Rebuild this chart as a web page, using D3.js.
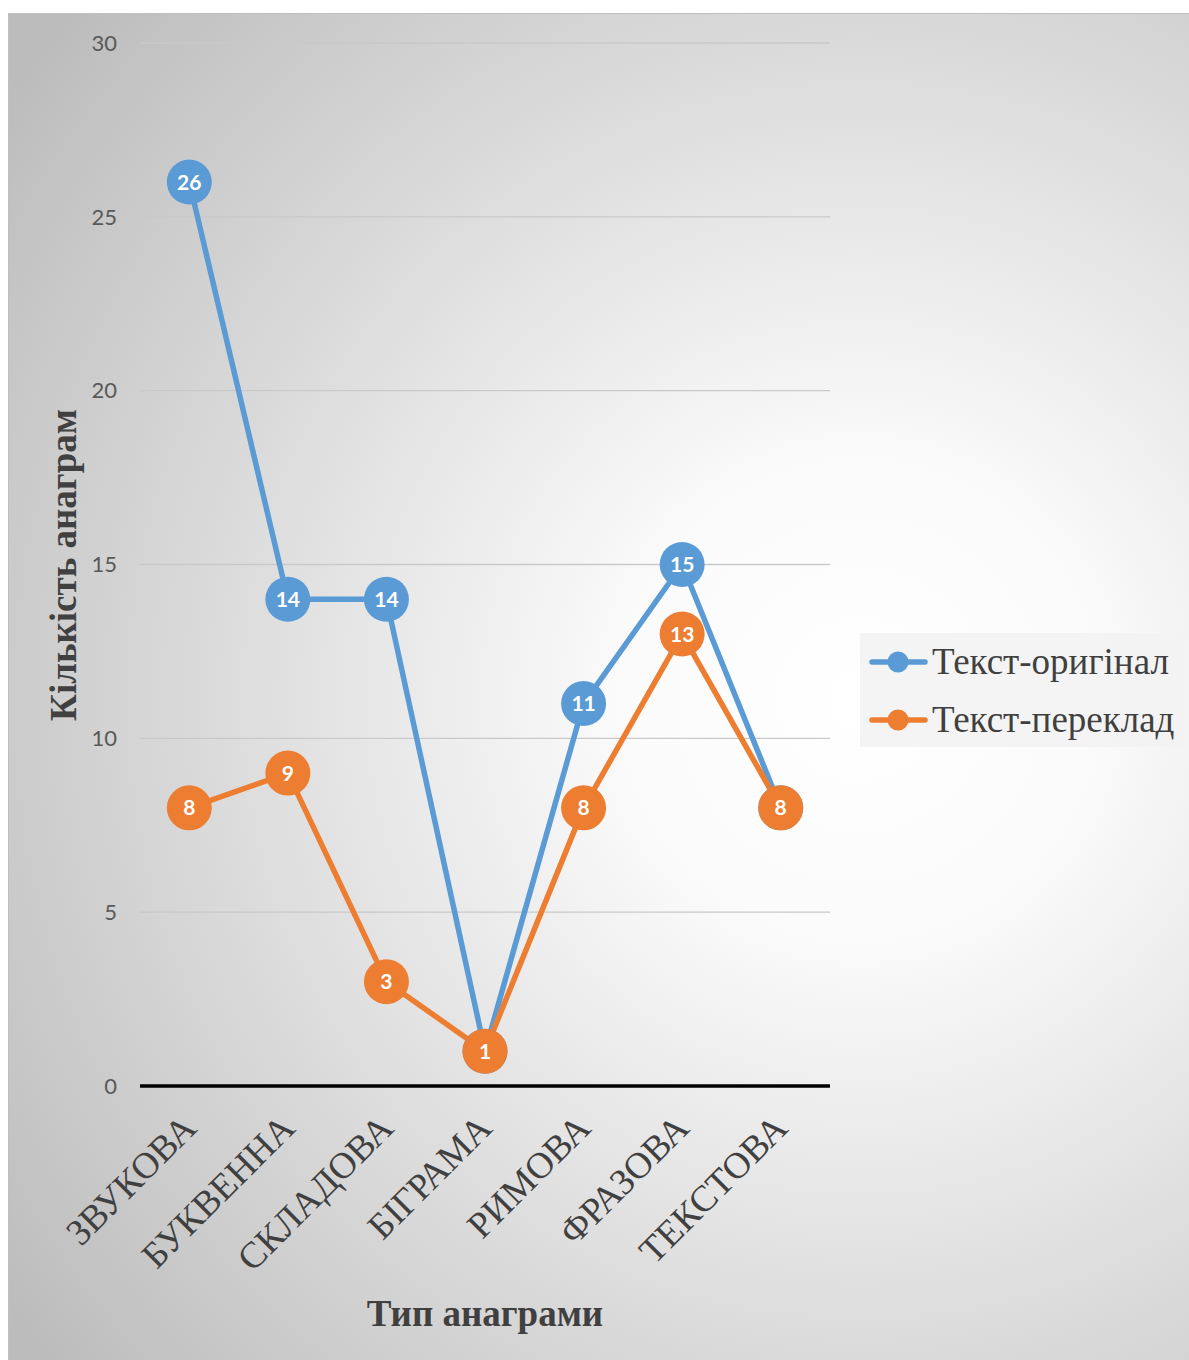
<!DOCTYPE html>
<html><head><meta charset="utf-8">
<script src="https://cdn.jsdelivr.net/npm/d3@7"></script>
<style>html,body{margin:0;padding:0;background:#fff;}</style>
</head><body>
<svg id="chart" width="1189" height="1360"></svg>
<script>
const categories = ["ЗВУКОВА","БУКВЕННА","СКЛАДОВА","БІГРАМА","РИМОВА","ФРАЗОВА","ТЕКСТОВА"];
const originalValues = [26,14,14,1,11,15,8];
const translationValues = [8,9,3,1,8,13,8];
const seriesNames = ["Текст-оригінал","Текст-переклад"];
const seriesColors = ["#5b9bd5","#ed7d31"];
const yTicks = [0,5,10,15,20,25,30];

const serif = "'Liberation Serif','Times New Roman',serif";
const sans = "Lato, 'Open Sans', 'Liberation Sans', sans-serif";

const svg = d3.select("#chart");
const defs = svg.append("defs");
const grad = defs.append("radialGradient").attr("id","bg")
  .attr("gradientUnits","userSpaceOnUse")
  .attr("cx",860).attr("cy",700).attr("r",1050).attr("fx",860).attr("fy",700);
grad.append("stop").attr("offset","0").attr("stop-color","#ffffff");
grad.append("stop").attr("offset","0.22").attr("stop-color","#fbfbfb");
grad.append("stop").attr("offset","1").attr("stop-color","#bcbcbc");

svg.append("rect").attr("x",8.5).attr("y",13.5).attr("width",1190).attr("height",1360)
  .attr("fill","url(#bg)").attr("stroke","#bfbfbf").attr("stroke-width",1);

const pLeft=140, pRight=830, pTop=43, pBottom=1086;
const x = d3.scaleBand().domain(categories).range([pLeft,pRight]);
const y = d3.scaleLinear().domain([0,30]).range([pBottom,pTop]);
const cx = c => x(c)+x.bandwidth()/2;

// gridlines
svg.append("g").selectAll("line").data(yTicks.filter(t=>t>0)).join("line")
  .attr("x1",pLeft).attr("x2",pRight).attr("y1",d=>y(d)).attr("y2",d=>y(d))
  .attr("stroke","#c9c9c9").attr("stroke-width",1.3);

// y axis labels
svg.append("g").selectAll("text").data(yTicks).join("text")
  .attr("x",117).attr("y",d=>y(d)).attr("dy","0.35em").attr("text-anchor","end")
  .attr("font-family",sans).attr("font-size",22)
  .attr("fill","#595959").text(d=>d);

// zero axis
svg.append("line").attr("x1",pLeft).attr("x2",pRight).attr("y1",y(0)).attr("y2",y(0))
  .attr("stroke","#000").attr("stroke-width",3.5);

// category labels
svg.append("g").selectAll("text").data(categories).join("text")
  .attr("transform",d=>`translate(${cx(d)+9},${1130}) rotate(-45)`)
  .attr("text-anchor","end")
  .attr("font-family",serif).attr("font-size",37)
  .attr("fill","#404040").text(d=>d);

// axis titles
svg.append("text").attr("transform",`translate(76,565) rotate(-90)`).attr("text-anchor","middle")
  .attr("font-family",serif).attr("font-weight","bold").attr("font-size",37)
  .attr("fill","#404040").text("Кількість анаграм");
svg.append("text").attr("x",485).attr("y",1326).attr("text-anchor","middle")
  .attr("font-family",serif).attr("font-weight","bold").attr("font-size",37)
  .attr("fill","#404040").text("Тип анаграми");

const series = [originalValues, translationValues];
const line = d3.line().x((d,i)=>cx(categories[i])).y(d=>y(d));
series.forEach((vals,si)=>{
  svg.append("path").attr("d",line(vals)).attr("fill","none")
    .attr("stroke",seriesColors[si]).attr("stroke-width",5.5).attr("stroke-linejoin","round").attr("stroke-linecap","round");
});
series.forEach((vals,si)=>{
  const g = svg.append("g");
  g.selectAll("circle").data(vals).join("circle")
    .attr("cx",(d,i)=>cx(categories[i])).attr("cy",d=>y(d)).attr("r",22.5).attr("fill",seriesColors[si]);
  g.selectAll("text").data(vals).join("text")
    .attr("x",(d,i)=>cx(categories[i])).attr("y",d=>y(d)).attr("dy","0.36em").attr("text-anchor","middle")
    .attr("font-family",sans).attr("font-weight","bold").attr("font-size",21)
    .attr("fill","#fff").text(d=>d);
});

// legend
const lg = svg.append("g");
lg.append("rect").attr("x",860).attr("y",633).attr("width",325).attr("height",114).attr("fill","#f2f2f2").attr("opacity",0.85);
seriesNames.forEach((n,i)=>{
  const yy = 662 + i*58;
  lg.append("line").attr("x1",872).attr("x2",925).attr("y1",yy).attr("y2",yy)
    .attr("stroke",seriesColors[i]).attr("stroke-width",5.5).attr("stroke-linecap","round");
  lg.append("circle").attr("cx",898).attr("cy",yy).attr("r",10.5).attr("fill",seriesColors[i]);
  lg.append("text").attr("x",932).attr("y",yy).attr("dy","0.33em")
    .attr("font-family",serif).attr("font-size",37)
    .attr("fill","#404040").text(n);
});
</script>
</body></html>
